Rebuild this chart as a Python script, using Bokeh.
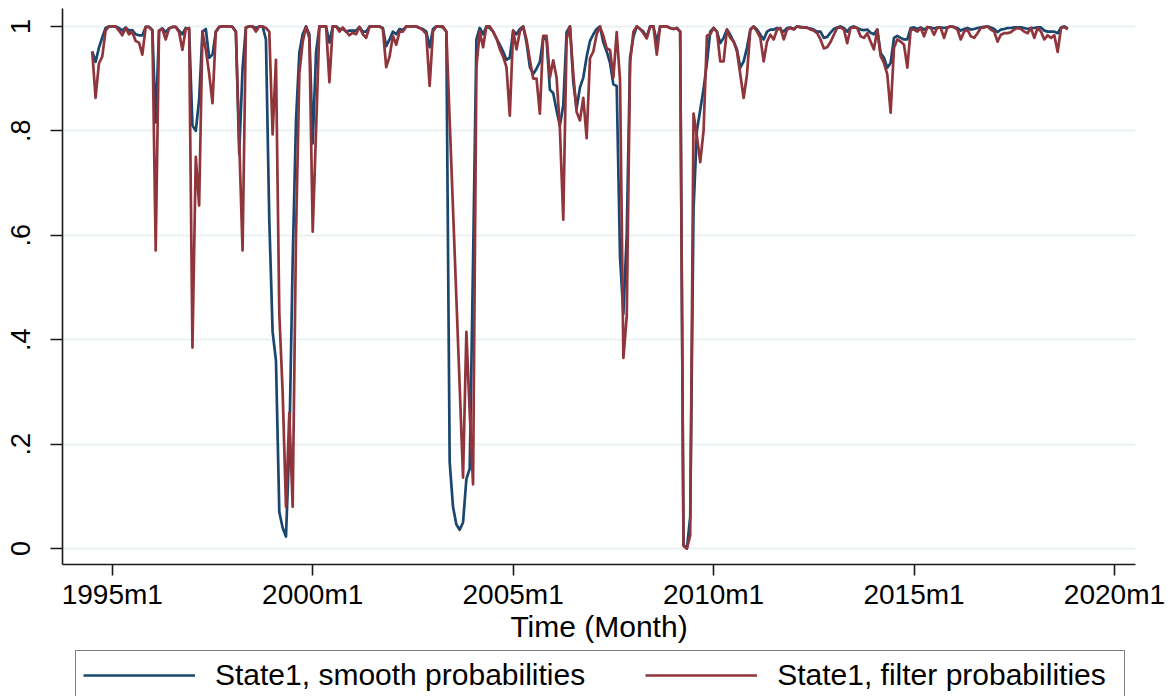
from bokeh.plotting import figure
from bokeh.layouts import column
from bokeh.models import (FixedTicker, CustomJSTickFormatter, Legend, LegendItem, Range1d)
from bokeh.embed import file_html
from bokeh.resources import INLINE

# ---------------- data ----------------
start_month = "1994m7"          # first monthly observation
x_tick_labels = ["1995m1", "2000m1", "2005m1", "2010m1", "2015m1", "2020m1"]
y_tick_values = [0, 0.2, 0.4, 0.6, 0.8, 1.0]
y_tick_labels = ["0", ".2", ".4", ".6", ".8", "1"]
series_labels = ["State1, smooth probabilities", "State1, filter probabilities"]

smooth_1994_1999 = [
    0.952, 0.932, 0.959, 0.979, 0.997, 1.0, 1.0, 1.0, 0.997, 0.992,
    0.998, 0.992, 0.993, 0.985, 0.983, 0.983, 0.999, 0.999, 0.993, 0.816,
    0.992, 0.996, 0.989, 0.996, 0.999, 0.999, 0.992, 0.985, 0.997, 0.995,
    0.81, 0.80, 0.86, 0.99, 0.995, 0.94, 0.946, 0.99, 0.999, 1.0,
    1.0, 1.0, 0.999, 0.99, 0.756, 0.92, 0.998, 1.0, 1.0, 0.997,
    1.0, 1.0, 0.975, 0.63, 0.415, 0.36, 0.07, 0.04, 0.023, 0.20,
    0.55,
]
smooth_2000_2004 = [
    0.82, 0.95, 0.985, 1.0, 0.985, 0.776, 0.95, 1.0, 1.0, 1.0,
    0.969, 1.0, 1.0, 0.995, 0.995, 0.99, 0.992, 0.992, 0.992, 0.999,
    0.99, 0.99, 1.0, 1.0, 1.0, 1.0, 0.997, 0.962, 0.975, 0.99,
    0.985, 0.995, 0.993, 1.0, 1.0, 1.0, 1.0, 0.997, 0.995, 0.99,
    0.96, 0.995, 1.0, 1.0, 0.998, 0.99, 0.166, 0.08, 0.046, 0.036,
    0.05, 0.133, 0.153, 0.55, 0.975, 0.997, 0.985, 1.0, 0.997, 0.99,
    0.977, 0.965,
]
smooth_2005_2009 = [
    0.952, 0.936, 0.94, 0.992, 0.985, 0.995, 1.0, 0.969, 0.922, 0.909,
    0.919, 0.932, 0.978, 0.975, 0.879, 0.872, 0.839, 0.81, 0.849, 0.989,
    1.0, 0.893, 0.843, 0.883, 0.902, 0.942, 0.972, 0.985, 0.995, 1.0,
    0.969, 0.952, 0.93, 0.889, 0.886, 0.557, 0.45, 0.6, 0.94, 0.98,
    1.0, 0.995, 0.99, 0.98, 1.0, 1.0, 0.97, 1.0, 1.0, 1.0,
    0.997, 0.995, 0.997, 0.99, 0.007, 0.0, 0.06, 0.65, 0.80, 0.84,
    0.88, 0.93, 0.99,
]
smooth_2010_2014 = [
    0.997, 0.99, 0.968, 0.978, 0.994, 0.984, 0.971, 0.956, 0.921, 0.933,
    0.959, 0.994, 1.0, 0.994, 0.984, 0.975, 0.99, 0.994, 0.994, 0.997,
    0.994, 0.99, 0.997, 0.998, 0.995, 1.0, 0.999, 0.998, 0.997, 0.996,
    0.994, 0.99, 0.99, 0.978, 0.98, 0.988, 0.995, 0.998, 1.0, 0.997,
    0.99, 0.998, 1.0, 0.997, 0.994, 0.993, 0.994, 0.988, 0.985, 0.994,
    0.949, 0.94, 0.921, 0.93, 0.978, 0.982, 0.978, 0.975, 0.975, 0.997,
    0.998, 0.995, 0.998, 0.994,
]
smooth_2015_2018 = [
    0.998, 0.998, 0.996, 0.998, 0.998, 0.997, 0.998, 1.0, 0.999, 0.997,
    0.992, 0.995, 0.997, 0.994, 0.995, 0.997, 0.998, 0.999, 1.0, 0.998,
    0.995, 0.989, 0.994, 0.995, 0.997, 0.997, 0.998, 0.998, 0.998, 0.997,
    0.995, 0.997, 0.997, 0.998, 0.998, 0.992, 0.99, 0.99, 0.99, 0.987,
    0.998, 1.0, 0.996,
]

filter_1994_1999 = [
    0.952, 0.863, 0.929, 0.942, 0.992, 1.0, 1.0, 1.0, 0.992, 0.983,
    0.997, 0.985, 0.989, 0.972, 0.969, 0.946, 0.999, 0.999, 0.992, 0.571,
    0.992, 0.995, 0.975, 0.996, 0.999, 0.999, 0.989, 0.955, 0.996, 0.997,
    0.385, 0.75, 0.657, 0.99, 0.955, 0.91, 0.853, 0.99, 0.999, 1.0,
    1.0, 1.0, 0.999, 0.99, 0.78, 0.571, 0.998, 1.0, 1.0, 0.99,
    1.0, 1.0, 0.997, 0.99, 0.793, 0.936, 0.45, 0.30, 0.08, 0.26,
    0.08,
]
filter_2000_2004 = [
    0.60, 0.91, 0.97, 1.0, 0.977, 0.607, 0.80, 1.0, 1.0, 1.0,
    0.893, 1.0, 1.0, 0.99, 0.998, 0.99, 0.983, 0.988, 0.985, 0.999,
    0.985, 0.978, 0.999, 1.0, 1.0, 1.0, 0.995, 0.922, 0.942, 0.982,
    0.965, 0.99, 0.99, 1.0, 1.0, 1.0, 1.0, 0.997, 0.993, 0.985,
    0.886, 0.99, 1.0, 1.0, 1.0, 0.99, 0.82, 0.65, 0.48, 0.31,
    0.136, 0.415, 0.26, 0.123, 0.922, 0.99, 0.96, 1.0, 1.0, 0.99,
    0.977, 0.957,
]
filter_2005_2009 = [
    0.942, 0.922, 0.829, 0.992, 0.956, 0.99, 1.0, 0.975, 0.936, 0.9,
    0.9, 0.833, 0.982, 0.982, 0.902, 0.935, 0.902, 0.803, 0.63, 0.975,
    1.0, 0.909, 0.836, 0.82, 0.863, 0.786, 0.939, 0.952, 0.985, 0.999,
    0.982, 0.958, 0.955, 0.902, 0.989, 0.896, 0.365, 0.444, 0.93, 0.99,
    1.0, 0.995, 0.987, 0.977, 1.0, 1.0, 0.946, 1.0, 1.0, 1.0,
    0.997, 0.995, 0.997, 0.99, 0.005, 0.0, 0.025, 0.833, 0.79, 0.74,
    0.80, 0.982, 0.985,
]
filter_2010_2014 = [
    0.997, 0.99, 0.933, 0.933, 0.994, 0.978, 0.971, 0.952, 0.908, 0.863,
    0.908, 0.994, 1.0, 0.99, 0.978, 0.933, 0.971, 0.984, 0.975, 0.994,
    0.997, 0.975, 0.994, 0.997, 0.994, 1.0, 0.998, 0.998, 0.998, 0.994,
    0.992, 0.987, 0.975, 0.958, 0.96, 0.97, 0.984, 0.997, 0.998, 0.994,
    0.968, 0.997, 0.998, 0.997, 0.981, 0.978, 0.987, 0.971, 0.956, 0.994,
    0.943, 0.93, 0.908, 0.835, 0.959, 0.975, 0.971, 0.965, 0.921, 0.994,
    0.994, 0.99, 0.997, 0.981,
]
filter_2015_2018 = [
    0.999, 0.997, 0.984, 0.998, 0.997, 0.978, 0.998, 1.0, 0.998, 0.994,
    0.975, 0.99, 0.994, 0.981, 0.978, 0.987, 0.997, 0.998, 1.0, 0.994,
    0.99, 0.971, 0.984, 0.987, 0.987, 0.989, 0.994, 0.997, 0.995, 0.99,
    0.987, 0.997, 0.978, 0.997, 0.99, 0.975, 0.983, 0.978, 0.983, 0.951,
    0.997, 0.999, 0.994,
]

smooth_prob = (smooth_1994_1999 + smooth_2000_2004 + smooth_2005_2009
               + smooth_2010_2014 + smooth_2015_2018)
filter_prob = (filter_1994_1999 + filter_2000_2004 + filter_2005_2009
               + filter_2010_2014 + filter_2015_2018)


def stata_month(s):
    y, m = s.split("m")
    return (int(y) - 1960) * 12 + int(m) - 1


t0 = stata_month(start_month)
months = [t0 + k for k in range(len(smooth_prob))]
x_tick_values = [stata_month(s) for s in x_tick_labels]

# ---------------- styling ----------------
FONT = "Liberation Sans"
BLUE = "#1a476f"
RED = "#90353b"
AXIS = "#1a1a1a"
LW = 2.7

MAIN_H = 645
LEG_H = 696 - MAIN_H
FRAME_LEFT = 62

p = figure(width=1168, height=MAIN_H, output_backend="svg", toolbar_location=None,
           x_range=Range1d(405.1, 726.3), y_range=Range1d(-0.0305, 1.0343),
           min_border_left=FRAME_LEFT, min_border_right=33, min_border_top=8,
           min_border_bottom=MAIN_H - 567)
p.background_fill_color = "white"
p.border_fill_color = "white"
p.outline_line_color = None

p.line(months, smooth_prob, line_color=BLUE, line_width=LW, line_join="round")
p.line(months, filter_prob, line_color=RED, line_width=LW, line_join="round")

# x axis
xa = p.xaxis[0]
xa.ticker = FixedTicker(ticks=x_tick_values)
xa.formatter = CustomJSTickFormatter(args=dict(vals=x_tick_values, labs=x_tick_labels), code="""
for (let i = 0; i < vals.length; i++) { if (Math.abs(tick - vals[i]) < 1e-6) return labs[i]; }
return '';
""")
xa.axis_label = "Time (Month)"
xa.axis_label_text_font = FONT
xa.axis_label_text_font_size = "30px"
xa.axis_label_text_font_style = "normal"
xa.axis_label_text_color = "black"
xa.axis_label_standoff = -3
xa.major_label_text_font = FONT
xa.major_label_text_font_size = "28px"
xa.major_label_text_color = "black"
xa.major_label_standoff = 3
xa.major_tick_out = 11
xa.major_tick_in = 0
xa.minor_tick_out = 0
xa.minor_tick_in = 0
xa.axis_line_color = AXIS
xa.axis_line_width = 1.6
xa.major_tick_line_color = AXIS
xa.major_tick_line_width = 1.6

# y axis
ya = p.yaxis[0]
ya.ticker = FixedTicker(ticks=y_tick_values)
ya.formatter = CustomJSTickFormatter(args=dict(vals=y_tick_values, labs=y_tick_labels), code="""
for (let i = 0; i < vals.length; i++) { if (Math.abs(tick - vals[i]) < 1e-6) return labs[i]; }
return '';
""")
ya.major_label_orientation = "vertical"
ya.major_label_text_font = FONT
ya.major_label_text_font_size = "27px"
ya.major_label_text_color = "black"
ya.major_label_standoff = 20
ya.major_tick_out = 12
ya.major_tick_in = 0
ya.minor_tick_out = 0
ya.minor_tick_in = 0
ya.axis_line_color = AXIS
ya.axis_line_width = 1.6
ya.major_tick_line_color = AXIS
ya.major_tick_line_width = 1.6

p.xgrid.visible = False
p.ygrid.ticker = FixedTicker(ticks=y_tick_values)
p.ygrid.grid_line_color = "#eaf2f3"
p.ygrid.grid_line_width = 2

# ---------------- legend strip below the plot ----------------
# the same series are drawn here outside the visible range, only so that the
# legend has line renderers to take its glyph styles from
leg = figure(width=1168, height=LEG_H, output_backend="svg", toolbar_location=None,
             x_range=Range1d(405.1, 726.3), y_range=Range1d(10, 11),
             x_axis_location=None, y_axis_location=None,
             min_border_left=0, min_border_right=0, min_border_top=0, min_border_bottom=0)
leg.outline_line_color = None
leg.background_fill_color = "white"
leg.border_fill_color = "white"
leg.xgrid.visible = False
leg.ygrid.visible = False
k_s = leg.line(months, smooth_prob, line_color=BLUE, line_width=LW)
k_f = leg.line(months, filter_prob, line_color=RED, line_width=LW)

legend = Legend(items=[LegendItem(label=series_labels[0], renderers=[k_s]),
                       LegendItem(label=series_labels[1], renderers=[k_f])],
                location=(75 - FRAME_LEFT, -4), orientation="horizontal")
legend.label_text_font = FONT
legend.label_text_font_size = "30px"
legend.label_text_color = "black"
legend.glyph_width = 112
legend.glyph_height = 20
legend.label_standoff = 20
legend.label_width = 340
legend.spacing = 60
legend.padding = 7
legend.margin = 0
legend.border_line_color = "black"
legend.border_line_width = 1.5
legend.background_fill_color = "white"
legend.background_fill_alpha = 1.0
leg.add_layout(legend)

layout = column(p, leg, spacing=0)
open("out.html", "w").write(file_html(layout, INLINE))
